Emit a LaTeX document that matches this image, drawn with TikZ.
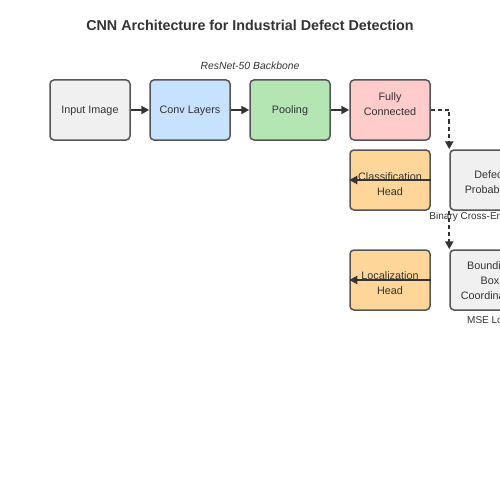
\documentclass[tikz,border=0pt]{standalone}
\usepackage{fontspec}
\setmainfont{Liberation Sans}
\usetikzlibrary{arrows.meta}
\definecolor{edgegray}{HTML}{555555}
\definecolor{txtgray}{HTML}{333333}
\definecolor{inputfill}{HTML}{F0F0F0}
\definecolor{convfill}{HTML}{C6E2FF}
\definecolor{poolfill}{HTML}{B3E6B3}
\definecolor{fcfill}{HTML}{FFCCCC}
\definecolor{headfill}{HTML}{FFD699}
\begin{document}
\begin{tikzpicture}[x=1pt,y=-1pt,
  block/.style={draw=edgegray,line width=1.5pt,rounded corners=4pt,minimum width=80pt,minimum height=60pt,inner sep=0pt},
  blocktxt/.style={align=center,text=txtgray,font=\fontsize{10.8}{15}\selectfont,inner sep=0pt},
  flow/.style={draw=txtgray,line width=2pt,-{Triangle[length=8pt,width=8pt]}},
  lbl/.style={text=txtgray,font=\fontsize{10}{12}\selectfont}]
\useasboundingbox (0,0) rectangle (500,500);
\clip (0,0) rectangle (500,500);
%\draw[step=50,gray,very thin] (0,0) grid (500,500); %background grid

\node[text=txtgray,font=\fontsize{14.3}{17}\bfseries] (title) at (250,25) {CNN Architecture for Industrial Defect Detection};
\node[lbl,font=\fontsize{10.4}{12}\itshape] (backbone) at (250,66) {ResNet-50 Backbone};

\node[block,fill=inputfill,label={[blocktxt,yshift=-1pt]center:Input Image}] (input) at (90,110) {};
\node[block,fill=convfill,label={[blocktxt,yshift=-1pt]center:Conv Layers}]  (conv)  at (190,110) {};
\node[block,fill=poolfill,label={[blocktxt,yshift=-1pt]center:Pooling}]  (pool)  at (290,110) {};
\node[block,fill=fcfill,label={[blocktxt,yshift=6pt]center:Fully\\Connected}]    (fc)    at (390,110) {};

\node[block,fill=headfill]  (cls)   at (390,180) {};
\node[block,fill=headfill]  (loc)   at (390,280) {};
\node[block,fill=inputfill,label={[blocktxt,yshift=-3.5pt]center:Defect\\Probability}] (prob)  at (490,180) {};
\node[block,fill=inputfill,label={[blocktxt,yshift=-1pt]center:Bounding\\Box\\Coordinates}] (bbox)  at (490,280) {};

\node[lbl] (bce) at (477,216.5) {Binary Cross-Entropy};
\node[lbl] (mse) at (490,320) {MSE Loss};

\draw[flow] (input) -- (conv);
\draw[flow] (conv) -- (pool);
\draw[flow] (pool) -- (fc);

\draw[flow,dash pattern=on 4pt off 3pt] (fc.east) -| (prob.north west);
\draw[flow,dash pattern=on 4pt off 3pt] (prob.south west) -- (bbox.north west);

\draw[flow] (cls.east) -- (cls.west);
\draw[flow] (loc.east) -- (loc.west);

% head texts sit over their arrows
\node[blocktxt,yshift=-3.7pt] (clstxt) at (cls) {Classification\\Head};
\node[blocktxt,yshift=-3.3pt] (loctxt) at (loc) {Localization\\Head};
\end{tikzpicture}
\end{document}
